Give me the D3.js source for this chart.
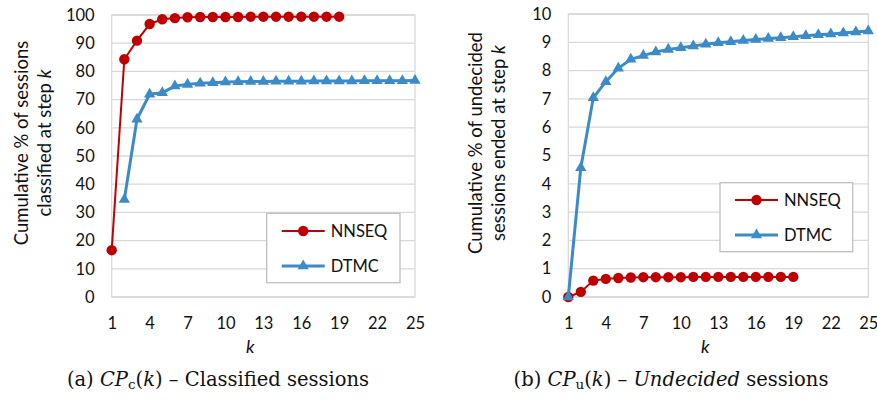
<!DOCTYPE html>
<html>
<head>
<meta charset="utf-8">
<script src="https://cdn.jsdelivr.net/npm/d3@7"></script>
<style>
  html, body { margin: 0; padding: 0; background: #fff; }
  svg { display: block; }
</style>
</head>
<body>
<svg id="chart" width="877" height="403"></svg>
<script>
// Step index k
const steps = d3.range(1, 26);
const xTicks = [1, 4, 7, 10, 13, 16, 19, 22, 25];

// (a) Cumulative % of sessions classified at step k
const classifiedNNSEQ = [16.6, 84.3, 90.9, 96.8, 98.5, 98.9, 99.2, 99.3, 99.3, 99.3,
                         99.3, 99.4, 99.4, 99.4, 99.4, 99.4, 99.4, 99.4, 99.4];
const classifiedDTMC = [null, 34.6, 63.0, 71.9, 72.4, 74.8, 75.4, 75.8, 76.0, 76.2,
                        76.3, 76.4, 76.4, 76.5, 76.5, 76.5, 76.6, 76.6, 76.6, 76.6,
                        76.7, 76.7, 76.7, 76.7, 76.8];
const classifiedYTicks = [0, 10, 20, 30, 40, 50, 60, 70, 80, 90, 100];

// (b) Cumulative % of undecided sessions ended at step k
const undecidedNNSEQ = [0, 0.18, 0.58, 0.64, 0.67, 0.69, 0.70, 0.70, 0.70, 0.70,
                        0.71, 0.71, 0.71, 0.71, 0.71, 0.71, 0.71, 0.71, 0.71];
const undecidedDTMC = [0, 4.57, 7.04, 7.61, 8.08, 8.40, 8.53, 8.66, 8.75, 8.81,
                       8.87, 8.93, 8.98, 9.02, 9.06, 9.10, 9.13, 9.16, 9.20, 9.23,
                       9.27, 9.29, 9.33, 9.36, 9.40];
const undecidedYTicks = [0, 1, 2, 3, 4, 5, 6, 7, 8, 9, 10];

const seriesNames = ["NNSEQ", "DTMC"];
const RED = "#c00000";
const BLUE = "#3b8bc9";
const GRID = "#d9d9d9";
const INK = "#111";
const UI_FONT = "Lato, 'Open Sans', sans-serif";
const SERIF = "'DejaVu Serif', 'Liberation Serif', serif";

const svg = d3.select("#chart");

function panel(opt) {
  const g = svg.append("g");
  const x = d3.scaleLinear().domain([1, 25]).range([opt.left, opt.right]);
  const y = d3.scaleLinear().domain(opt.yDomain).range([opt.bottom, opt.top]);

  // horizontal gridlines
  g.append("g").selectAll("line").data(opt.yTicks).join("line")
    .attr("x1", opt.left).attr("x2", opt.right)
    .attr("y1", d => y(d)).attr("y2", d => y(d))
    .attr("stroke", GRID).attr("stroke-width", 1.3);
  // plot frame
  g.append("rect")
    .attr("x", opt.left).attr("y", opt.top)
    .attr("width", opt.right - opt.left).attr("height", opt.bottom - opt.top)
    .attr("fill", "none").attr("stroke", GRID).attr("stroke-width", 1.3);

  // y axis labels
  const yAxis = d3.axisLeft(y).tickValues(opt.yTicks).tickSize(0).tickPadding(17);
  const ya = g.append("g").attr("transform", `translate(${opt.left},0)`).call(yAxis);
  ya.select(".domain").remove();
  ya.selectAll("text").attr("font-family", UI_FONT).attr("font-size", 16.5).attr("fill", INK);

  // x axis labels
  const xAxis = d3.axisBottom(x).tickValues(xTicks).tickSize(0).tickPadding(20);
  const xa = g.append("g").attr("transform", `translate(0,${opt.bottom})`).call(xAxis);
  xa.select(".domain").remove();
  xa.selectAll("text").attr("font-family", UI_FONT).attr("font-size", 16.5).attr("fill", INK);

  // axis titles
  g.append("text")
    .attr("x", (opt.left + opt.right) / 2 - 13).attr("y", 353)
    .attr("text-anchor", "middle").attr("font-family", UI_FONT)
    .attr("font-style", "italic").attr("font-size", 18).attr("fill", INK)
    .text("k");

  const yt = g.append("text")
    .attr("transform", `translate(${opt.titleX},143) rotate(-90)`)
    .attr("text-anchor", "middle").attr("font-family", UI_FONT)
    .attr("font-size", 18.5).attr("fill", INK);
  yt.append("tspan").attr("x", 0).attr("y", 0).text(opt.title[0]);
  const l2 = yt.append("tspan").attr("x", 0).attr("y", 23);
  l2.append("tspan").text(opt.title[1]);
  l2.append("tspan").attr("font-style", "italic").text("k");

  // series lines and markers
  const line = d3.line()
    .defined(d => d.v != null)
    .x(d => x(d.k)).y(d => y(d.v));
  const toPts = arr => arr.map((v, i) => ({ k: steps[i], v }));

  const red = toPts(opt.nnseq);
  g.append("path").datum(red).attr("d", line)
    .attr("fill", "none").attr("stroke", RED).attr("stroke-width", 2);
  g.append("g").selectAll("circle").data(red.filter(d => d.v != null)).join("circle")
    .attr("cx", d => x(d.k)).attr("cy", d => y(d.v)).attr("r", 5.2).attr("fill", RED);

  const blue = toPts(opt.dtmc);
  g.append("path").datum(blue).attr("d", line)
    .attr("fill", "none").attr("stroke", BLUE).attr("stroke-width", 3);
  const tri = d3.symbol().type(d3.symbolTriangle).size(55);
  g.append("g").selectAll("path").data(blue.filter(d => d.v != null)).join("path")
    .attr("transform", d => `translate(${x(d.k)},${y(d.v)})`)
    .attr("d", tri).attr("fill", BLUE);

  // legend
  const L = opt.legend;
  g.append("rect").attr("x", L.x).attr("y", L.y).attr("width", L.w).attr("height", L.h)
    .attr("fill", "#fff").attr("stroke", "#bfbfbf").attr("stroke-width", 1.3);
  const items = [
    { name: seriesNames[0], color: RED, w: 2, mark: "circle" },
    { name: seriesNames[1], color: BLUE, w: 3, mark: "tri" }
  ];
  items.forEach((it, i) => {
    const cy = L.y + L.row0 + i * L.gap;
    const x0 = L.x + 15, x1 = x0 + 43;
    g.append("line").attr("x1", x0).attr("x2", x1).attr("y1", cy).attr("y2", cy)
      .attr("stroke", it.color).attr("stroke-width", it.w);
    if (it.mark === "circle") {
      g.append("circle").attr("cx", (x0 + x1) / 2).attr("cy", cy).attr("r", 5.2).attr("fill", it.color);
    } else {
      g.append("path").attr("transform", `translate(${(x0 + x1) / 2},${cy})`).attr("d", tri).attr("fill", it.color);
    }
    g.append("text").attr("x", x1 + 6).attr("y", cy).attr("dy", "0.35em")
      .attr("font-family", UI_FONT).attr("font-size", 16.5).attr("fill", INK)
      .text(it.name);
  });

  // caption
  const cap = g.append("text").attr("x", opt.capX).attr("y", 386)
    .attr("text-anchor", "middle").attr("font-family", SERIF)
    .attr("font-size", 19.5).attr("fill", INK);
  cap.append("tspan").text(`(${opt.letter}) `);
  cap.append("tspan").attr("font-style", "italic").text("CP");
  cap.append("tspan").attr("font-size", 13.5).attr("dy", 3).text(opt.sub);
  cap.append("tspan").attr("dy", -3).text("(");
  cap.append("tspan").attr("font-style", "italic").text("k");
  cap.append("tspan").text(") – ");
  opt.capRest.forEach(p => cap.append("tspan").attr("font-style", p.italic ? "italic" : null).text(p.t));
}

panel({
  left: 111.7, right: 415, top: 15, bottom: 297,
  yDomain: [0, 100], yTicks: classifiedYTicks,
  nnseq: classifiedNNSEQ, dtmc: classifiedDTMC,
  titleX: 28,
  title: ["Cumulative % of sessions", "classified at step "],
  legend: { x: 266.7, y: 213.3, w: 133.3, h: 69.4, row0: 17.7, gap: 35 },
  capX: 218, letter: "a", sub: "c",
  capRest: [{ t: "Classified sessions" }]
});

panel({
  left: 568.3, right: 868.3, top: 14, bottom: 297,
  yDomain: [0, 10], yTicks: undecidedYTicks,
  nnseq: undecidedNNSEQ, dtmc: undecidedDTMC,
  titleX: 482,
  title: ["Cumulative % of undecided", "sessions ended at step "],
  legend: { x: 720, y: 182.7, w: 132.7, h: 69, row0: 17.3, gap: 35 },
  capX: 671, letter: "b", sub: "u",
  capRest: [{ t: "Undecided", italic: true }, { t: " sessions" }]
});
</script>
</body>
</html>
